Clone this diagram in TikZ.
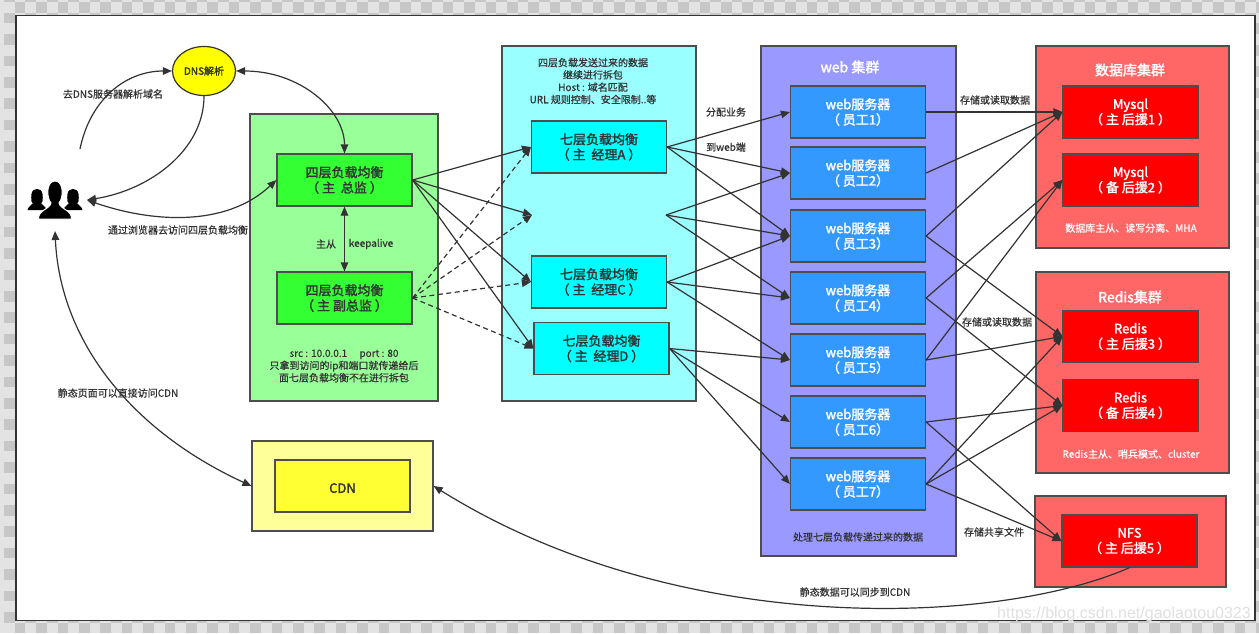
\documentclass[tikz,border=0pt]{standalone}
\usepackage{fontspec}
\setmainfont{Noto Sans CJK SC}
\newfontfamily\boxfont[FakeBold=2]{Noto Sans CJK SC}
\newfontfamily\notefont[FakeBold=0.6]{Noto Sans CJK SC}
\newfontfamily\wmfont{Liberation Sans}
\usetikzlibrary{arrows.meta}
\usetikzlibrary{shapes.geometric}
\definecolor{linegray}{HTML}{333333}
\definecolor{edgegray}{HTML}{4D4D4D}
\definecolor{lsgreen}{HTML}{99FF99}
\definecolor{lfgreen}{HTML}{33FF33}
\definecolor{lsyellow}{HTML}{FFFF99}
\definecolor{cdnyellow}{HTML}{FFFF33}
\definecolor{dnsyellow}{HTML}{FFFF00}
\definecolor{lscyan}{HTML}{99FFFF}
\definecolor{purecyan}{HTML}{00FFFF}
\definecolor{webpurple}{HTML}{9999FF}
\definecolor{webblue}{HTML}{3399FF}
\definecolor{lsred}{HTML}{FF6666}
\definecolor{purered}{HTML}{FF0000}
\tikzset{
  box/.style={shape=rectangle,draw=edgegray,line width=1.2pt,inner sep=0pt,align=center,minimum width=135pt,minimum height=52pt,font=\boxfont\fontsize{13}{15.3}\selectfont,text=linegray,execute at begin node={\rule{0pt}{14pt}}},
  group/.style={shape=rectangle,draw=edgegray,line width=1.2pt,inner sep=0pt},
  note/.style={inner sep=0pt,align=center,text=linegray,font=\notefont\fontsize{10}{12.3}\selectfont},
  title/.style={inner sep=0pt,text=white,font=\boxfont\fontsize{14}{16}\selectfont},
  link/.style={color=linegray,line width=1.2pt,-{Triangle[length=9pt,width=7.5pt]}},
  both/.style={color=linegray,line width=1.2pt,{Triangle[length=9pt,width=7.5pt]}-{Triangle[length=9pt,width=7.5pt]}},
  dlink/.style={link,dashed,dash pattern=on 5pt off 3.5pt},
  person/.pic={
    \filldraw[draw=white,line width=1pt] (-16.5,20) .. controls (-17,11) and (-5,10) .. (-4,4) .. controls (-9,-2) and (-8.5,-18) .. (0,-18) .. controls (8.5,-18) and (9,-2) .. (4,4) .. controls (5,10) and (17,11) .. (16.5,20) -- cycle;
  },
  sideperson/.pic={
    \fill (-9.5,10) .. controls (-9,6) and (-5,6) .. (-4,3) .. controls (-6,3) and (-6,-1) .. (-5.5,-6) .. controls (-5,-10) and (-2,-11) .. (0,-11) .. controls (2,-11) and (5,-10) .. (5.5,-6) .. controls (6,-1) and (6,3) .. (4,3) .. controls (5,6) and (9,6) .. (9.5,10) -- cycle;
  }
}
\begin{document}
\begin{tikzpicture}[x=1pt,y=-1pt]
    \useasboundingbox (0,0) rectangle (1259,633);
    % background squares
    \fill[black!11] (0,0) rectangle (1259,633);
    \foreach \i in {0,...,117}
      \foreach \j in {0,...,59}{
        \pgfmathparse{int(mod(\i+\j,2))}
        \ifnum\pgfmathresult=0
          \fill[black!22] ({4+\i*10.7},{2+\j*10.7-10.7}) rectangle ++(10.7,10.7);
        \fi
      }
    \node[shape=rectangle,draw=linegray,fill=white,line width=1.6pt,minimum width=1239pt,minimum height=605pt,inner sep=0pt] (canvas) at (635.5,318) {};

    % groups
    \node[group,fill=lsgreen,minimum width=188pt,minimum height=287pt] (green) at (344,257.5) {};
    \node[group,fill=lsyellow,minimum width=181pt,minimum height=90pt] (cdnout) at (342.5,486) {};
    \node[group,fill=lscyan,minimum width=194pt,minimum height=355pt] (cyan) at (599,223.5) {};
    \node[group,fill=webpurple,minimum width=195pt,minimum height=510pt] (purple) at (858.5,301) {};
    \node[group,fill=lsred,minimum width=193pt,minimum height=202pt] (dbgroup) at (1132.5,147) {};
    \node[group,fill=lsred,minimum width=193pt,minimum height=201pt] (redisgroup) at (1132.5,372.5) {};
    \node[group,fill=lsred,minimum width=191pt,minimum height=91pt] (nfsgroup) at (1130.5,541.5) {};

    % boxes
    \node[shape=ellipse,draw=linegray,line width=1.2pt,fill=dnsyellow,minimum width=63pt,minimum height=49pt,inner sep=0pt,font=\boxfont\fontsize{10}{12}\selectfont,text=linegray] (dns) at (204,71) {DNS解析};
    \node[box,fill=lfgreen] (lfmain) at (344.5,180) {四层负载均衡\\（ 主 \ 总监 ）};
    \node[box,fill=lfgreen] (lfsub) at (344.5,298) {四层负载均衡\\（ 主 副总监 ）};
    \node[box,fill=cdnyellow] (cdn) at (342.5,486) {CDN};
    \node[box,fill=purecyan] (lsA) at (599,147) {七层负载均衡\\（ 主 \ 经理A ）};
    \node[box,fill=purecyan] (lsC) at (599,282) {七层负载均衡\\（ 主 \ 经理C ）};
    \node[box,fill=purecyan] (lsD) at (601.5,348.5) {七层负载均衡\\（ 主 \ 经理D ）};
    \coordinate (lsBin) at (532,215);
    \coordinate (lsBout) at (666,215);
    \foreach \n/\y in {1/112,2/173,3/236,4/298,5/360,6/422,7/484}{
      \node[box,fill=webblue,text=white] (web\n) at (858,\y) {web服务器\\（ 员工\n ）};
    }
    \node[box,fill=purered,text=white] (mysqlA) at (1130.5,112) {Mysql\\（ 主 后援1 ）};
    \node[box,fill=purered,text=white] (mysqlB) at (1130.5,180) {Mysql\\（ 备 后援2 ）};
    \node[box,fill=purered,text=white] (redisA) at (1130.5,336.5) {Redis\\（ 主 后援3 ）};
    \node[box,fill=purered,text=white] (redisB) at (1130.5,405.5) {Redis\\（ 备 后援4 ）};
    \node[box,fill=purered,text=white] (nfs) at (1129.5,541) {NFS\\（ 主 后援5 ）};

    % users
    \pic[black] at (37,200) {sideperson};
    \pic[black] at (73,200) {sideperson};
    \pic[black] at (55,199) {person};
    \coordinate (usertop) at (80,149);
    \coordinate (userside) at (87,200);
    \coordinate (userdown) at (55,231);

    % texts
    \node[title] (webtitle) at (850,67) {web 集群};
    \node[title] (dbtitle) at (1130,70) {数据库集群};
    \node[title] (redistitle) at (1130,297) {Redis集群};
    \node[note,text=white] (dbnote) at (1131,228) {数据库主从、读写分离、MHA};
    \node[note,text=white] (redisnote) at (1131,454) {Redis主从、哨兵模式、cluster};
    \node[note] (webnote) at (858,537) {处理七层负载传递过来的数据};
    \node[note] (lsnote) at (593,81) {四层负载发送过来的数据\\继续进行拆包\\Host : 域名匹配\\URL 规则控制、安全限制..等};
    \node[note] (lfnote) at (344,366) {src : 10.0.0.1 \quad port : 80\\只拿到访问的ip和端口就传递给后\\面七层负载均衡不在进行拆包};
    \node[note] (t1) at (113,94) {去DNS服务器解析域名};
    \node[note] (t2) at (178,230) {通过浏览器去访问四层负载均衡};
    \node[note] (t3) at (326,244) {主从};
    \node[note] (t4) at (371,244) {keepalive};
    \node[note] (t5) at (118,393) {静态页面可以直接访问CDN};
    \node[note] (t6) at (726,112) {分配业务};
    \node[note] (t7) at (726,147) {到web端};
    \node[note] (t8) at (995,100) {存储或读取数据};
    \node[note] (t9) at (997,322) {存储或读取数据};
    \node[note] (t10) at (994,532) {存储共享文件};
    \node[note] (t11) at (855,592) {静态数据可以同步到CDN};
    \node[inner sep=0pt,text=black!12,font=\wmfont\fontsize{16}{18}\selectfont] (mark) at (1124,614) {https://blog.csdn.net/gaolaotou0323};

    % curves
    \draw[link] (usertop) .. controls (90,100) and (125,71) .. (dns.west);
    \draw[link] (dns.south) .. controls (204,150) and (150,190) .. (userside);
    \draw[both] (dns.east) .. controls (300,71) and (344.5,110) .. (lfmain.north);
    \draw[both] (userside) .. controls (150,222) and (225,228) .. (lfmain.west);
    \draw[both] (lfmain.south) -- (lfsub.north);
    \draw[both] (userdown) .. controls (60,340) and (130,430) .. (cdnout.west);
    \draw[link] (nfs.south) .. controls (1000,625) and (680,640) .. (cdnout.east);

    % four layer to seven layer
    \path [link] (lfmain.east) edge (lsA.west);
    \path [link] (lfmain.east) edge (lsBin);
    \path [link] (lfmain.east) edge (lsC.west);
    \path [link] (lfmain.east) edge (lsD.west);
    \path [dlink] (lfsub.east) edge (lsA.west);
    \path [dlink] (lfsub.east) edge (lsBin);
    \path [dlink] (lfsub.east) edge (lsC.west);
    \path [dlink] (lfsub.east) edge (lsD.west);

    % seven layer to web
    \foreach \n in {1,2,3} \path [link] (lsA.east) edge (web\n.west);
    \foreach \n in {2,3,4} \path [link] (lsBout) edge (web\n.west);
    \foreach \n in {3,4,5} \path [link] (lsC.east) edge (web\n.west);
    \foreach \n in {5,6,7} \path [link] (lsD.east) edge (web\n.west);

    % web to backends
    \foreach \a/\b in {1/mysqlA,2/mysqlA,3/mysqlA,3/redisA,4/mysqlB,4/redisB,5/mysqlB,5/redisA,6/redisB,6/nfs,7/redisA,7/redisB,7/nfs}
      \path [link] (web\a.east) edge (\b.west);
\end{tikzpicture}
\end{document}
